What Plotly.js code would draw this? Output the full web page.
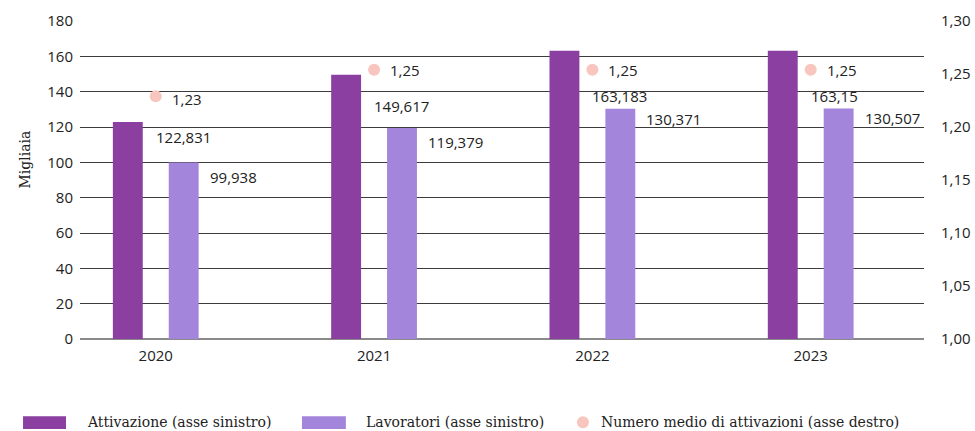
<!DOCTYPE html>
<html>
<head>
<meta charset="utf-8">
<script src="https://cdn.plot.ly/plotly-3.0.1.min.js"></script>
<style>html,body{margin:0;padding:0;background:#fff;}#chart{width:975px;height:431px;}</style>
</head>
<body>
<div id="chart"></div>
<script>
// ---- data ----
const years = ['2020', '2021', '2022', '2023'];
const attivazioni = [122.831, 149.617, 163.183, 163.15];   // migliaia (asse sinistro)
const lavoratori = [99.938, 119.379, 130.371, 130.507];    // migliaia (asse sinistro)
const numeroMedio = [1.229, 1.254, 1.254, 1.254];          // asse destro
const seriesNames = ['Attivazione (asse sinistro)', 'Lavoratori (asse sinistro)', 'Numero medio di attivazioni (asse destro)'];
const leftTicks = [0, 20, 40, 60, 80, 100, 120, 140, 160, 180];
const rightTicks = [1.00, 1.05, 1.10, 1.15, 1.20, 1.25, 1.30];

// ---- styling ----
const colA = '#8a3fa1', colL = '#a385db', colDot = '#f9c6bf';
const sans = 'Open Sans, sans-serif';
const serif = 'DejaVu Serif, serif';
const txt = '#222222';
// per-label pixel offsets (how far data labels sit below their mark)
const dropA = [15, 31, 45, 45];
const dropL = [15, 14, 10, 10];
const dropDot = [3, 0, 0, 0];

const fmt = v => String(v).replace('.', ',');

const traces = [
  {type: 'bar', name: seriesNames[0], x: years, y: attivazioni, marker: {color: colA}, hoverinfo: 'none'},
  {type: 'bar', name: seriesNames[1], x: years, y: lavoratori, marker: {color: colL}, hoverinfo: 'none'},
  {type: 'scatter', mode: 'markers', name: seriesNames[2], x: years, y: numeroMedio, yaxis: 'y2',
   marker: {color: colDot, size: 12}, cliponaxis: false, hoverinfo: 'none'}
];

const annotations = [];
years.forEach((yr, i) => {
  annotations.push({x: i, y: attivazioni[i], xref: 'x', yref: 'y', text: fmt(attivazioni[i]), showarrow: false,
    xanchor: 'left', yanchor: 'middle', xshift: -2, yshift: -dropA[i], font: {family: sans, size: 15, color: txt}});
  annotations.push({x: i, y: lavoratori[i], xref: 'x', yref: 'y', text: fmt(lavoratori[i]), showarrow: false,
    xanchor: 'left', yanchor: 'middle', xshift: 52, yshift: -dropL[i], font: {family: sans, size: 15, color: txt}});
  annotations.push({x: i, y: numeroMedio[i], xref: 'x', yref: 'y2', text: numeroMedio[i].toFixed(2).replace('.', ','), showarrow: false,
    xanchor: 'left', yanchor: 'middle', xshift: 14, yshift: -dropDot[i], font: {family: sans, size: 15, color: txt}});
});
// y axis title
annotations.push({x: -0.065, y: 0.565, xref: 'paper', yref: 'paper', text: 'Migliaia', textangle: -90, showarrow: false,
  xanchor: 'center', yanchor: 'middle', font: {family: serif, size: 14, color: txt}});
// legend texts
const legY = -0.262;
const legTextX = [0.0059, 0.3365, 0.615];
seriesNames.forEach((n, k) => {
  annotations.push({x: legTextX[k], y: legY, xref: 'paper', yref: 'paper', text: n, showarrow: false,
    xanchor: 'left', yanchor: 'middle', font: {family: serif, size: 14, color: txt}});
});

const shapes = [
  {type: 'rect', xref: 'paper', yref: 'paper', x0: -0.0675, x1: -0.0166, y0: -0.283, y1: -0.243, fillcolor: colA, line: {width: 0}},
  {type: 'rect', xref: 'paper', yref: 'paper', x0: 0.263, x1: 0.315, y0: -0.283, y1: -0.243, fillcolor: colL, line: {width: 0}},
  {type: 'circle', xref: 'paper', yref: 'paper', x0: 0.5888, x1: 0.6030, y0: -0.2809, y1: -0.2431, fillcolor: colDot, line: {width: 0}}
];

const layout = {
  width: 975, height: 431,
  margin: {l: 80, r: 51, t: 21, b: 92, pad: 0},
  paper_bgcolor: '#ffffff', plot_bgcolor: '#ffffff',
  separators: ', ',
  showlegend: false,
  barmode: 'group', bargap: 0.488, bargroupgap: 0.465,
  xaxis: {type: 'category', range: [-0.347, 3.519], showgrid: false, zeroline: false, showline: false,
    ticks: '', tickfont: {family: sans, size: 15, color: txt}, ticklabelstandoff: 6, fixedrange: true},
  yaxis: {range: [0, 180], tickvals: leftTicks, showgrid: true, gridcolor: '#3c3c3c', gridwidth: 1,
    zeroline: true, zerolinecolor: '#8a8a8a', zerolinewidth: 2, showline: false, ticks: '',
    tickfont: {family: sans, size: 15, color: txt}, ticklabelstandoff: 6, fixedrange: true},
  yaxis2: {range: [1, 1.3], tickvals: rightTicks, tickformat: '.2f', overlaying: 'y', side: 'right',
    showgrid: false, zeroline: false, showline: false, ticks: '',
    tickfont: {family: sans, size: 15, color: txt}, ticklabelstandoff: 16, fixedrange: true},
  annotations: annotations,
  shapes: shapes
};

Plotly.newPlot('chart', traces, layout, {displayModeBar: false, staticPlot: true});
</script>
</body>
</html>
